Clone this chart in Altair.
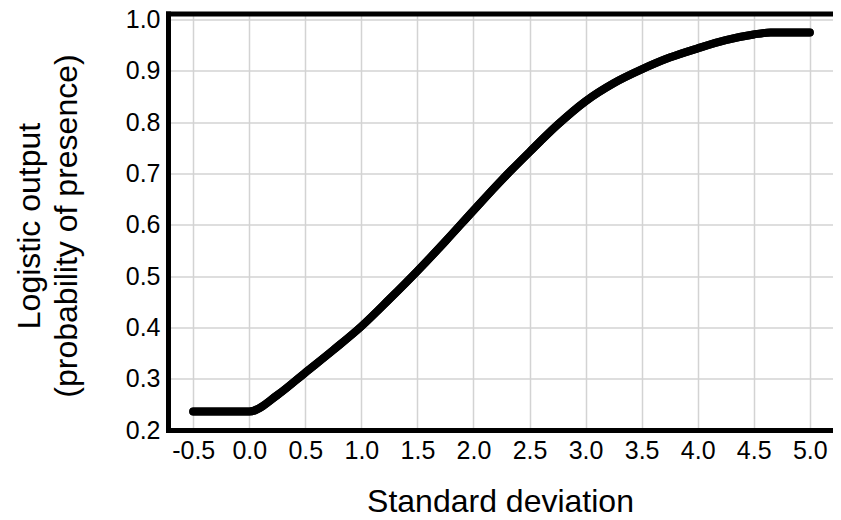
import altair as alt
import pandas as pd

# Curve
sd = [-0.5, 0.0, 0.25, 0.5, 0.75, 1.0, 1.25, 1.5, 1.75, 2.0, 2.25, 2.5, 2.75,
      3.0, 3.25, 3.5, 3.75, 4.0, 4.25, 4.5, 4.65, 5.0]
prob = [0.236, 0.236, 0.268, 0.312, 0.356, 0.402, 0.455, 0.51, 0.568, 0.628,
        0.687, 0.742, 0.795, 0.841, 0.876, 0.903, 0.926, 0.944, 0.960, 0.971,
        0.975, 0.975]

x_ticks = [-0.5, 0.0, 0.5, 1.0, 1.5, 2.0, 2.5, 3.0, 3.5, 4.0, 4.5, 5.0]
y_ticks = [0.2, 0.3, 0.4, 0.5, 0.6, 0.7, 0.8, 0.9, 1.0]

x_title = "Standard deviation"
y_title = ["Logistic output", "(probability of presence)"]

df = pd.DataFrame({"sd": sd, "p": prob})

FONT = "Liberation Sans"
GRID = "#d3d3d3"
X_DOMAIN = [-0.725, 5.207]
Y_DOMAIN = [0.2, 1.012]

label_expr = ("datum.value < 0 ? '-' + format(-datum.value, '.1f') "
              ": format(datum.value, '.1f')")

x_scale = alt.Scale(domain=X_DOMAIN, nice=False, zero=False)
y_scale = alt.Scale(domain=Y_DOMAIN, nice=False, zero=False)

line_mark = dict(color="black", strokeWidth=8, strokeCap="round",
                 strokeJoin="round", interpolate="monotone")

main = alt.Chart(df).mark_line(**line_mark).encode(
    x=alt.X("sd:Q", scale=x_scale,
            axis=alt.Axis(orient="bottom", values=x_ticks, labelExpr=label_expr,
                          title=x_title,
                          domain=True, domainColor="black", domainWidth=5,
                          domainCap="square",
                          ticks=False, grid=True,
                          gridColor=GRID, gridWidth=1.5,
                          labelFont=FONT, labelFontSize=25, labelColor="black",
                          labelPadding=8, labelFlush=False, labelOverlap=False,
                          titleFont=FONT, titleFontSize=32, titleFontWeight="normal",
                          titleColor="black", titleX=332, titleY=81,
                          titleAlign="center", titleBaseline="alphabetic")),
    y=alt.Y("p:Q", scale=y_scale,
            axis=alt.Axis(orient="left", values=y_ticks, format=".1f", title=y_title,
                          domain=True, domainColor="black", domainWidth=5,
                          domainCap="square",
                          ticks=False, grid=True,
                          gridColor={"condition": {"test": "datum.value <= 0.2",
                                                   "value": "rgba(0,0,0,0)"},
                                     "value": GRID},
                          gridWidth=1.5,
                          labelFont=FONT, labelFontSize=25, labelColor="black",
                          labelPadding=8, labelFlush=False, labelOverlap=False,
                          labelBaseline="middle",
                          titleFont=FONT, titleFontSize=32, titleFontWeight="normal",
                          titleColor="black", titleAngle=270, titleX=-129,
                          titleY=212, titleAlign="center",
                          titleBaseline="alphabetic", titleLineHeight=37)),
)

top = alt.Chart(df).mark_line(**line_mark).encode(
    x=alt.X("sd:Q", scale=x_scale,
            axis=alt.Axis(orient="top", title=None, labels=False, ticks=False,
                          grid=False, domain=True, domainColor="black",
                          domainWidth=5, domainCap="square")),
    y=alt.Y("p:Q", scale=y_scale),
)

chart = alt.layer(main, top).resolve_axis(x="independent").properties(
    width=665, height=416.5,
    autosize=alt.AutoSizeParams(type="none"),
    padding={"left": 160, "top": 5.5, "right": 0, "bottom": 82},
).configure(background="white").configure_view(stroke=None)

chart.save("out.html", embed_options={"renderer": "svg", "actions": False})
